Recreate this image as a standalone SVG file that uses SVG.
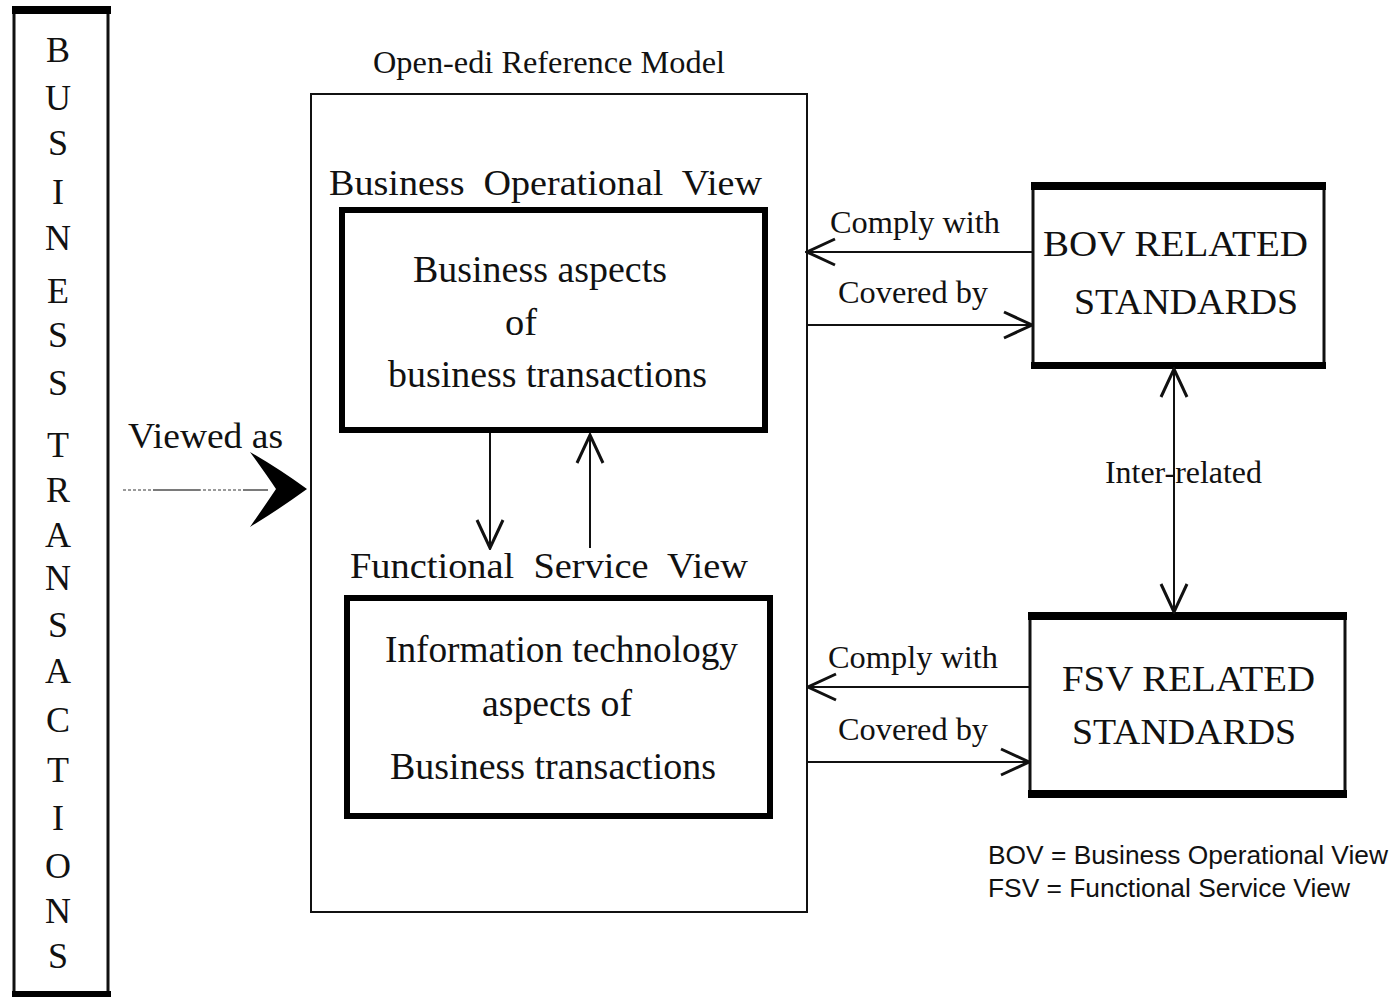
<svg xmlns="http://www.w3.org/2000/svg" width="1393" height="999" viewBox="0 0 1393 999">
  <style>
    .serif { font-family: "Liberation Serif", "Times New Roman", serif; fill: #111; }
    .col { font-size: 36px; text-anchor: middle; }
    .head { font-size: 36px; }
    .body { font-size: 37px; }
    .lbl { font-size: 32px; }
    .std { font-size: 36px; }
    .legend { font-family: "Liberation Sans", Arial, sans-serif; font-size: 25px; fill: #111; }
    .thin { fill: none; stroke: #111; stroke-width: 2; }
    .thick { fill: none; stroke: #000; stroke-width: 6; }
    .side { fill: none; stroke: #111; stroke-width: 3; }
    .bar { fill: #000; }
    .conn { fill: none; stroke: #111; stroke-width: 2; }
  </style>
  <defs>
    <marker id="vee" markerUnits="userSpaceOnUse" viewBox="-32 -16 34 32" refX="0" refY="0" markerWidth="34" markerHeight="32" orient="auto-start-reverse">
      <path d="M -28 -13 L 0 0 L -28 13" fill="none" stroke="#111" stroke-width="3" stroke-linejoin="miter"/>
    </marker>
  </defs>
  <rect width="1393" height="999" fill="#fff"/>

  <!-- vertical business transactions column -->
  <g id="business-transactions">
    <rect x="14" y="10" width="94" height="984" class="side"/>
    <rect x="12" y="6" width="99" height="8" class="bar"/>
    <rect x="12" y="991" width="99" height="6" class="bar"/>
    <g class="serif col">
      <text x="58" y="62">B</text>
      <text x="58" y="110">U</text>
      <text x="58" y="155">S</text>
      <text x="58" y="204">I</text>
      <text x="58" y="250">N</text>
      <text x="58" y="303">E</text>
      <text x="58" y="347">S</text>
      <text x="58" y="395">S</text>
      <text x="58" y="457">T</text>
      <text x="58" y="502">R</text>
      <text x="58" y="547">A</text>
      <text x="58" y="590">N</text>
      <text x="58" y="637">S</text>
      <text x="58" y="683">A</text>
      <text x="58" y="732">C</text>
      <text x="58" y="782">T</text>
      <text x="58" y="830">I</text>
      <text x="58" y="878">O</text>
      <text x="58" y="923">N</text>
      <text x="58" y="968">S</text>
    </g>
  </g>

  <!-- reference model frame -->
  <g id="open-edi-model">
    <text class="serif" x="373" y="73" font-size="31" textLength="352" lengthAdjust="spacingAndGlyphs">Open-edi Reference Model</text>
    <rect x="311" y="94" width="496" height="818" class="thin"/>
  </g>

  <!-- business operational view -->
  <g id="bov-view">
    <text class="serif head" x="329" y="195" textLength="433" lengthAdjust="spacingAndGlyphs" xml:space="preserve">Business  Operational  View</text>
    <rect x="342" y="210" width="423" height="220" class="thick"/>
    <text class="serif body" x="413" y="282" textLength="254" lengthAdjust="spacingAndGlyphs">Business aspects</text>
    <text class="serif body" x="505" y="335" textLength="32" lengthAdjust="spacingAndGlyphs">of</text>
    <text class="serif body" x="388" y="387" textLength="319" lengthAdjust="spacingAndGlyphs">business transactions</text>
  </g>

  <!-- functional service view -->
  <g id="fsv-view">
    <text class="serif head" x="350" y="578" textLength="398" lengthAdjust="spacingAndGlyphs" xml:space="preserve">Functional  Service  View</text>
    <rect x="347" y="598" width="423" height="218" class="thick"/>
    <text class="serif body" x="385" y="662" textLength="353" lengthAdjust="spacingAndGlyphs">Information technology</text>
    <text class="serif body" x="482" y="716" textLength="150" lengthAdjust="spacingAndGlyphs">aspects of</text>
    <text class="serif body" x="390" y="779" textLength="326" lengthAdjust="spacingAndGlyphs">Business transactions</text>
  </g>

  <!-- BOV related standards -->
  <g id="bov-standards">
    <rect x="1033" y="186" width="291" height="180" class="side"/>
    <rect x="1031" y="182" width="295" height="8" class="bar"/>
    <rect x="1031" y="362" width="295" height="7" class="bar"/>
    <text class="serif std" x="1043" y="256" textLength="265" lengthAdjust="spacingAndGlyphs">BOV RELATED</text>
    <text class="serif std" x="1074" y="314" textLength="224" lengthAdjust="spacingAndGlyphs">STANDARDS</text>
  </g>

  <!-- FSV related standards -->
  <g id="fsv-standards">
    <rect x="1030" y="616" width="315" height="178" class="side"/>
    <rect x="1028" y="612" width="319" height="8" class="bar"/>
    <rect x="1028" y="790" width="319" height="8" class="bar"/>
    <text class="serif std" x="1062" y="691" textLength="253" lengthAdjust="spacingAndGlyphs">FSV RELATED</text>
    <text class="serif std" x="1072" y="744" textLength="224" lengthAdjust="spacingAndGlyphs">STANDARDS</text>
  </g>

  <!-- abbreviations -->
  <g id="legend">
    <text class="legend" x="988" y="864" textLength="400" lengthAdjust="spacingAndGlyphs">BOV = Business Operational View</text>
    <text class="legend" x="988" y="897" textLength="362" lengthAdjust="spacingAndGlyphs">FSV = Functional Service View</text>
  </g>

  <!-- connectors -->
  <g id="connectors">
    <!-- viewed as -->
    <line x1="123" y1="490" x2="267" y2="490" stroke="#9a9a9a" stroke-width="2" stroke-dasharray="3 2"/>
    <line x1="153" y1="490" x2="200" y2="490" stroke="#7a7a7a" stroke-width="2"/>
    <line x1="243" y1="490" x2="268" y2="490" stroke="#7a7a7a" stroke-width="2"/>
    <path d="M 307 489 Q 278 468 250 452 Q 266 474 276 489 Q 266 504 250 527 Q 278 510 307 489 Z" fill="#000"/>
    <text class="serif" x="128" y="448" font-size="35" textLength="155" lengthAdjust="spacingAndGlyphs">Viewed as</text>

    <!-- between views -->
    <line x1="490" y1="433" x2="490" y2="548" class="conn" marker-end="url(#vee)"/>
    <line x1="590" y1="548" x2="590" y2="435" class="conn" marker-end="url(#vee)"/>

    <!-- BOV standards links -->
    <line x1="1033" y1="252" x2="807" y2="252" class="conn" marker-end="url(#vee)"/>
    <text class="serif lbl" x="830" y="233" textLength="170" lengthAdjust="spacingAndGlyphs">Comply with</text>
    <line x1="808" y1="325" x2="1032" y2="325" class="conn" marker-end="url(#vee)"/>
    <text class="serif lbl" x="838" y="303" textLength="150" lengthAdjust="spacingAndGlyphs">Covered by</text>

    <!-- FSV standards links -->
    <line x1="1030" y1="687" x2="808" y2="687" class="conn" marker-end="url(#vee)"/>
    <text class="serif lbl" x="828" y="668" textLength="170" lengthAdjust="spacingAndGlyphs">Comply with</text>
    <line x1="808" y1="762" x2="1029" y2="762" class="conn" marker-end="url(#vee)"/>
    <text class="serif lbl" x="838" y="740" textLength="150" lengthAdjust="spacingAndGlyphs">Covered by</text>

    <!-- inter-related standards -->
    <line x1="1174" y1="369" x2="1174" y2="612" class="conn" marker-start="url(#vee)" marker-end="url(#vee)"/>
    <text class="serif" x="1105" y="483" font-size="31" textLength="157" lengthAdjust="spacingAndGlyphs">Inter-related</text>
  </g>
</svg>
